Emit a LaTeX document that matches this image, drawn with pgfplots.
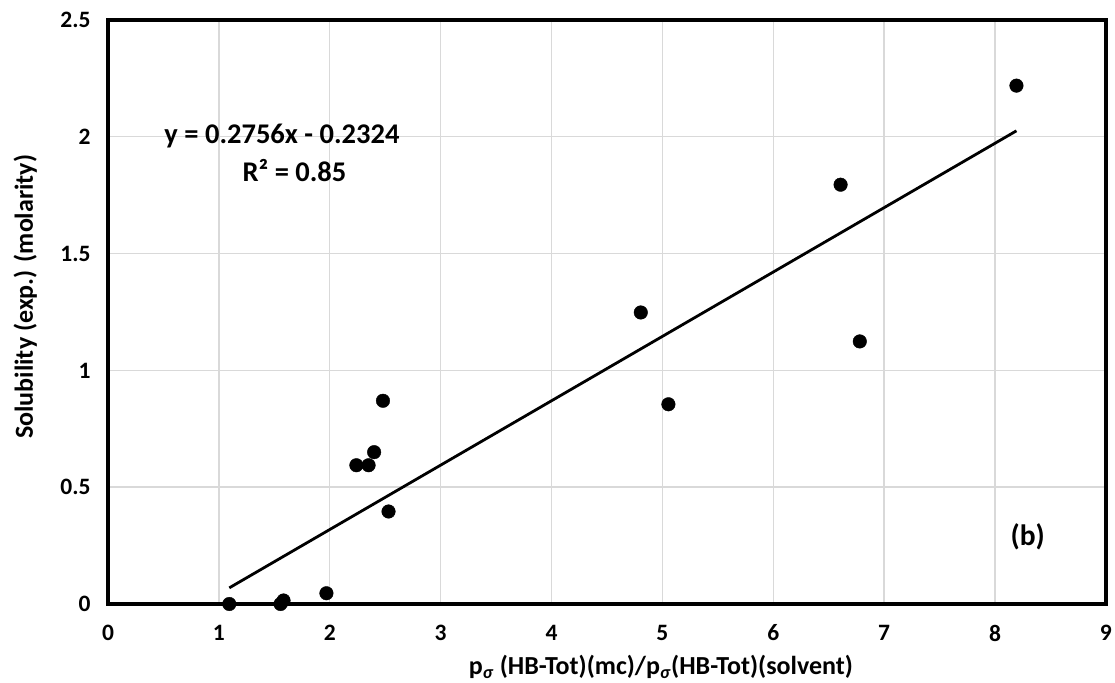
\documentclass[border=0pt]{standalone}
\usepackage{fontspec}
\setmainfont{Carlito}
\usepackage{pgfplots}
\pgfplotsset{compat=1.18}
\begin{document}
\begin{tikzpicture}
\useasboundingbox (-108bp,-79bp) rectangle (1007bp,604bp);
\begin{axis}[
  at={(0,0)}, anchor=south west,
  scale only axis, width=998bp, height=584bp,
  xmin=0, xmax=9, ymin=0, ymax=2.5,
  xtick={0,1,...,9}, ytick={0,0.5,1,1.5,2,2.5},
  xticklabels={0,1,2,3,4,5,6,7,8,9},
  yticklabels={0,0.5,1,1.5,2,2.5},
  grid=major, major grid style={draw=black!15, line width=1.4bp},
  axis line style={line width=3.2bp, black},
  major tick length=0pt,
  tick label style={font=\fontsize{23.5bp}{27bp}\selectfont\bfseries},
  xticklabel style={anchor=center, yshift=-29bp},
  yticklabel style={anchor=east, xshift=-14bp},
  xlabel={p\textsubscript{\textit{σ}} (HB-Tot)(mc)/p\textsubscript{\textit{σ}}(HB-Tot)(solvent)},
  ylabel={Solubility (exp.) (molarity)},
  xlabel style={font=\fontsize{26bp}{30bp}\selectfont\bfseries, at={(axis description cs:0.554,-0.108)}, anchor=center},
  ylabel style={font=\fontsize{26bp}{30bp}\selectfont\bfseries, at={(axis description cs:-0.083,0.526)}, anchor=center},
  clip=false,
]
\addplot[only marks, mark=*, mark size=6.8bp, mark options={fill=black, draw=black}] coordinates {
  (1.094,0.0) (1.556,0.0) (1.583,0.015) (1.97,0.046)
  (2.24,0.594) (2.35,0.594) (2.40,0.65) (2.48,0.87) (2.53,0.396)
  (4.805,1.248) (5.054,0.855) (6.607,1.795) (6.78,1.124) (8.193,2.219)
};
\addplot[black, line width=2.8bp, no marks] coordinates {(1.094,0.0691) (8.193,2.0256)};
\node[font=\fontsize{28.5bp}{33bp}\selectfont\bfseries, anchor=center] at (axis cs:1.569,2.004) {y = 0.2756x - 0.2324};
\node[font=\fontsize{28.5bp}{33bp}\selectfont\bfseries, anchor=center] at (axis cs:1.682,1.854) {R² = 0.85};
\node[font=\fontsize{29.5bp}{33bp}\selectfont\bfseries, anchor=center] at (axis cs:8.295,0.289) {(b)};
\end{axis}
\end{tikzpicture}
\end{document}
